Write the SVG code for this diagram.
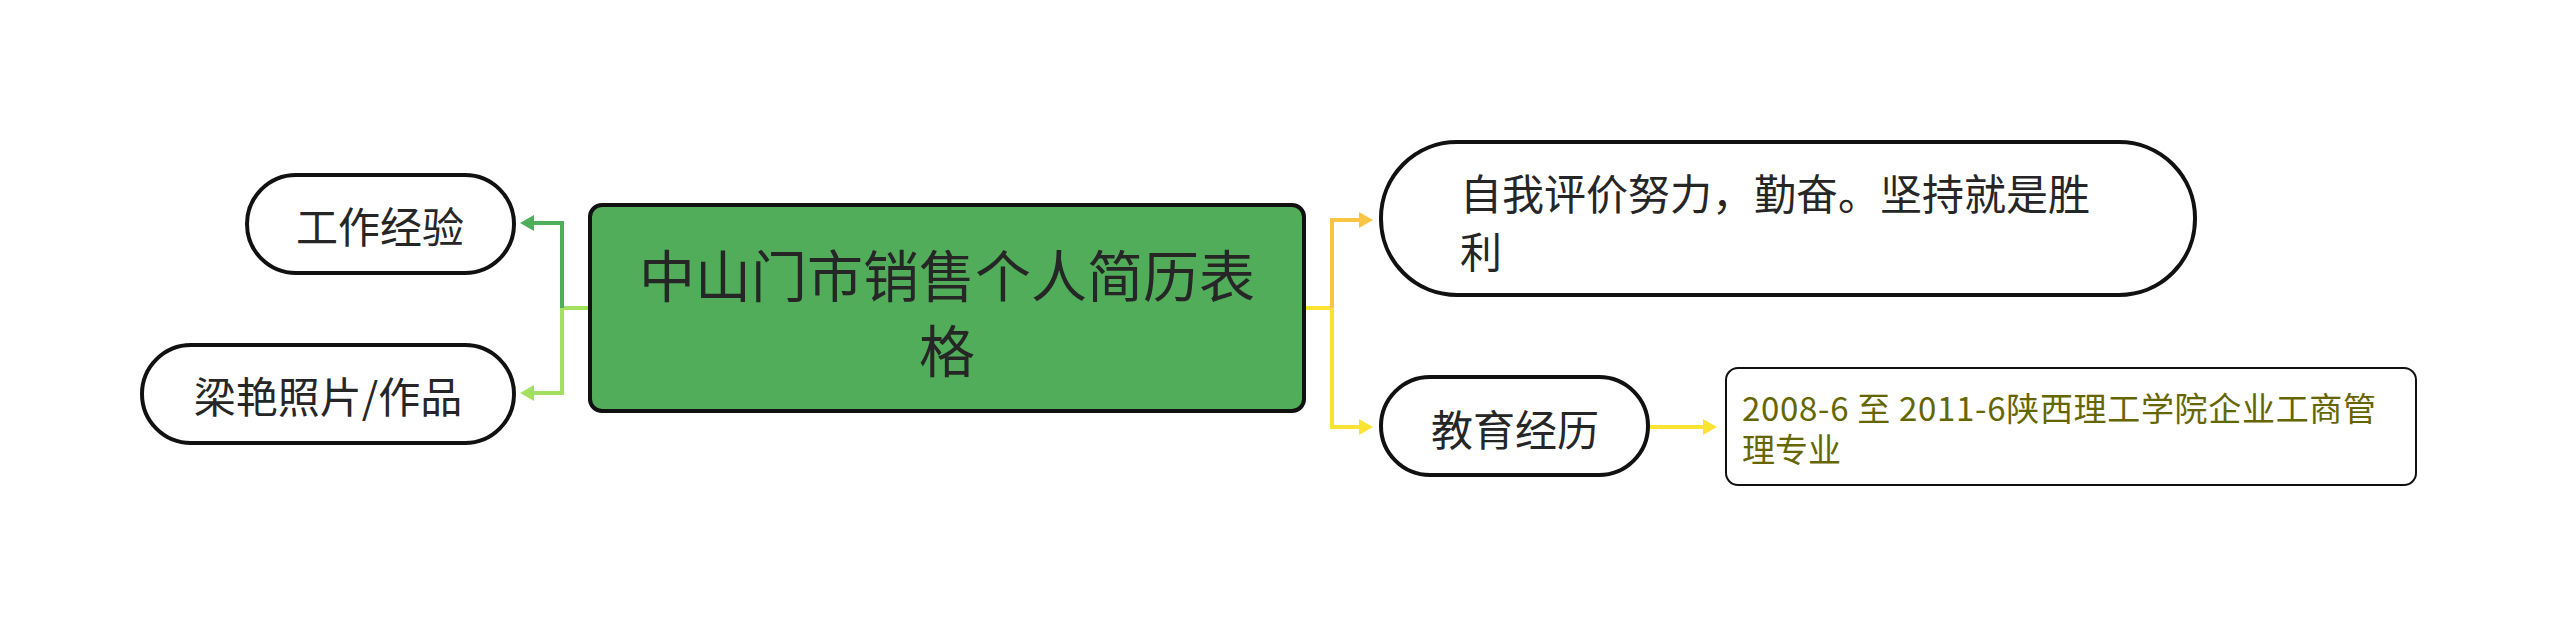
<svg xmlns="http://www.w3.org/2000/svg" width="2560" height="627" viewBox="0 0 2560 627">
<style>
.t{font-family:"Noto Sans CJK SC","Microsoft YaHei","Noto Sans",sans-serif;fill:#262626;dominant-baseline:central}
.n{stroke:#111;stroke-width:4;fill:#fff}
.c{fill:none;stroke-width:4}
</style>
<defs>
<marker id="aG" markerUnits="userSpaceOnUse" markerWidth="14" markerHeight="16" refX="0" refY="8" orient="auto" viewBox="0 0 14 16"><path d="M0,0 L14,8 L0,16 z" fill="#4fae5b"/></marker>
<marker id="aL" markerUnits="userSpaceOnUse" markerWidth="14" markerHeight="16" refX="0" refY="8" orient="auto" viewBox="0 0 14 16"><path d="M0,0 L14,8 L0,16 z" fill="#a3e060"/></marker>
<marker id="aO" markerUnits="userSpaceOnUse" markerWidth="14" markerHeight="16" refX="0" refY="8" orient="auto" viewBox="0 0 14 16"><path d="M0,0 L14,8 L0,16 z" fill="#f8c644"/></marker>
<marker id="aY" markerUnits="userSpaceOnUse" markerWidth="14" markerHeight="16" refX="0" refY="8" orient="auto" viewBox="0 0 14 16"><path d="M0,0 L14,8 L0,16 z" fill="#fae332"/></marker>
</defs>
<rect width="2560" height="627" fill="#fff"/>
<g id="connectors">
<path class="c" stroke="#a3e060" d="M588,308 H562"/>
<path class="c" stroke="#4fae5b" d="M562,308 V223 H534" marker-end="url(#aG)"/>
<path class="c" stroke="#a3e060" d="M562,308 V393 H534" marker-end="url(#aL)"/>
<path class="c" stroke="#fae332" d="M1306,308 H1332"/>
<path class="c" stroke="#f8c644" d="M1332,308 V220 H1359" marker-end="url(#aO)"/>
<path class="c" stroke="#fae332" d="M1332,308 V427 H1359" marker-end="url(#aY)"/>
<path class="c" stroke="#fae332" d="M1650,427 H1703" marker-end="url(#aY)"/>
</g>
<g id="root">
<rect x="590" y="205" width="714" height="206" rx="12" fill="#51ad5a" stroke="#111" stroke-width="4"/>
<text class="t" font-size="56" text-anchor="middle"><tspan x="947" y="272">中山门市销售个人简历表</tspan><tspan x="947" y="347">格</tspan></text>
</g>
<g id="work">
<rect class="n" x="247" y="175" width="267" height="98" rx="49"/>
<text class="t" font-size="42" x="380" y="224" text-anchor="middle">工作经验</text>
</g>
<g id="photo">
<rect class="n" x="142" y="345" width="372" height="98" rx="49"/>
<text class="t" font-size="42" x="328" y="394" text-anchor="middle">梁艳照片/作品</text>
</g>
<g id="self">
<rect class="n" x="1381" y="142" width="814" height="153" rx="76"/>
<text class="t" font-size="42"><tspan x="1460" y="191">自我评价努力，勤奋。坚持就是胜</tspan><tspan x="1460" y="249">利</tspan></text>
</g>
<g id="edu">
<rect class="n" x="1381" y="377" width="267" height="98" rx="49"/>
<text class="t" font-size="42" x="1515" y="427" text-anchor="middle">教育经历</text>
</g>
<g id="edu-detail">
<rect x="1726" y="368" width="690" height="117" rx="12" fill="#fff" stroke="#111" stroke-width="2"/>
<text class="t" font-size="33" style="fill:#666600"><tspan x="1742" y="407" textLength="634" lengthAdjust="spacing">2008-6 至 2011-6陕西理工学院企业工商管</tspan><tspan x="1742" y="448">理专业</tspan></text>
</g>
</svg>
